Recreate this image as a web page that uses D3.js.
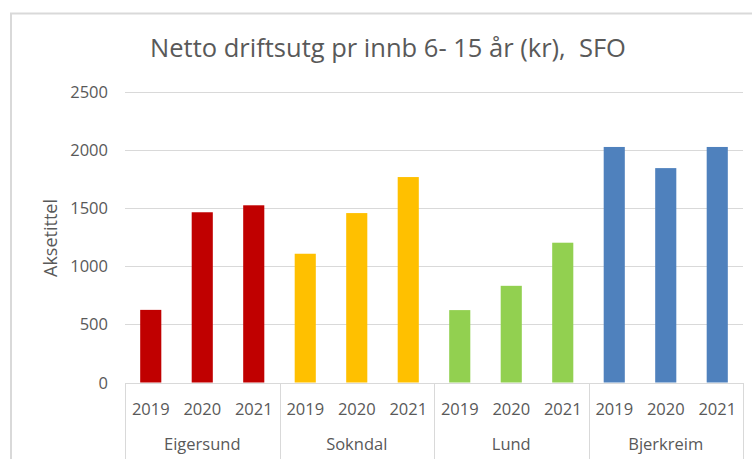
<!doctype html>
<html lang="no">
  <head>
    <meta charset="utf-8">
    <title>SFO</title>
    <style>
      body { margin: 0; background: #fff; }
      text { font-family: "Open Sans", sans-serif; fill: #595959; }
      .grid line { stroke: #d9d9d9; stroke-width: 1; shape-rendering: crispEdges; }
      .sep { stroke: #d9d9d9; stroke-width: 1; shape-rendering: crispEdges; }
    </style>
  </head>
  <body>
  <div class="chart"></div>
  <script src="https://d3js.org/d3.v7.min.js"></script>
  <script>
    const groups = ['Eigersund', 'Sokndal', 'Lund', 'Bjerkreim'];
    const years = ['2019', '2020', '2021'];
    const eigersund = [625, 1465, 1525];
    const sokndal = [1108, 1458, 1768];
    const lund = [623, 832, 1203];
    const bjerkreim = [2027, 1845, 2027];
    const yTicks = [0, 500, 1000, 1500, 2000, 2500];
    const colors = ['#c00000', '#ffc000', '#92d050', '#4f81bd'];

    const seriesValues = [eigersund, sokndal, lund, bjerkreim];
    const data = groups.map((g, i) => ({
      group: g,
      color: colors[i],
      values: years.map((y, j) => ({year: y, value: seriesValues[i][j]}))
    }));

    const W = 752, H = 459;
    const plot = {left: 125, right: 743, top: 92, bottom: 382.5};

    const svg = d3.select('.chart').append('svg')
        .attr('width', W)
        .attr('height', H);

    // chart frame
    svg.append('rect')
        .attr('x', 11).attr('y', 13.5)
        .attr('width', W + 20).attr('height', H + 20)
        .attr('fill', '#fff')
        .attr('stroke', '#d9d9d9')
        .attr('stroke-width', 2);

    const yScale = d3.scaleLinear()
        .domain([0, 2500])
        .range([plot.bottom, plot.top]);

    const x0 = d3.scaleBand()
        .domain(groups)
        .range([plot.left, plot.right]);

    const x1 = d3.scaleBand()
        .domain(years)
        .range([0, x0.bandwidth()])
        .paddingInner(0.59)
        .paddingOuter(0.295);

    // gridlines + y labels
    const grid = svg.append('g').attr('class', 'grid');
    grid.selectAll('line')
      .data(yTicks.filter(d => d > 0))
      .enter().append('line')
        .attr('x1', plot.left).attr('x2', plot.right)
        .attr('y1', d => Math.round(yScale(d)) + 0.5)
        .attr('y2', d => Math.round(yScale(d)) + 0.5);

    svg.append('g').selectAll('text')
      .data(yTicks)
      .enter().append('text')
        .attr('x', 108)
        .attr('y', d => yScale(d) + 6)
        .attr('text-anchor', 'end')
        .style('font-size', '16.5px')
        .text(d => d);

    // bars
    const g = svg.append('g').selectAll('g')
      .data(data)
      .enter().append('g')
        .attr('transform', d => `translate(${x0(d.group)},0)`);

    g.selectAll('rect')
      .data(d => d.values.map(v => Object.assign({color: d.color}, v)))
      .enter().append('rect')
        .attr('x', d => x1(d.year))
        .attr('width', x1.bandwidth())
        .attr('y', d => yScale(d.value))
        .attr('height', d => yScale(0) - yScale(d.value))
        .attr('fill', d => d.color);

    // category axis
    svg.append('line')
        .attr('class', 'sep')
        .attr('x1', plot.left).attr('x2', plot.right)
        .attr('y1', Math.round(plot.bottom) + 0.5)
        .attr('y2', Math.round(plot.bottom) + 0.5);

    const seps = groups.map(d => x0(d)).concat([plot.right]);
    svg.append('g').selectAll('line')
      .data(seps)
      .enter().append('line')
        .attr('class', 'sep')
        .attr('x1', d => Math.round(d) + 0.5)
        .attr('x2', d => Math.round(d) + 0.5)
        .attr('y1', plot.bottom)
        .attr('y2', H);

    g.selectAll('.yr')
      .data(d => d.values)
      .enter().append('text')
        .attr('class', 'yr')
        .attr('x', d => x1(d.year) + x1.bandwidth() / 2)
        .attr('y', 415)
        .attr('text-anchor', 'middle')
        .style('font-size', '16.5px')
        .text(d => d.year);

    g.append('text')
        .attr('x', x0.bandwidth() / 2)
        .attr('y', 450)
        .attr('text-anchor', 'middle')
        .style('font-size', '16.5px')
        .text(d => d.group);

    // axis title
    svg.append('text')
        .attr('transform', 'translate(57,238) rotate(-90)')
        .attr('text-anchor', 'middle')
        .style('font-size', '18px')
        .text('Aksetittel');

    // chart title
    svg.append('text')
        .attr('x', 388)
        .attr('y', 57)
        .attr('text-anchor', 'middle')
        .style('font-size', '25.5px')
        .text('Netto driftsutg pr innb 6- 15 år (kr),\u00a0 SFO');
  </script>
  </body>
</html>
